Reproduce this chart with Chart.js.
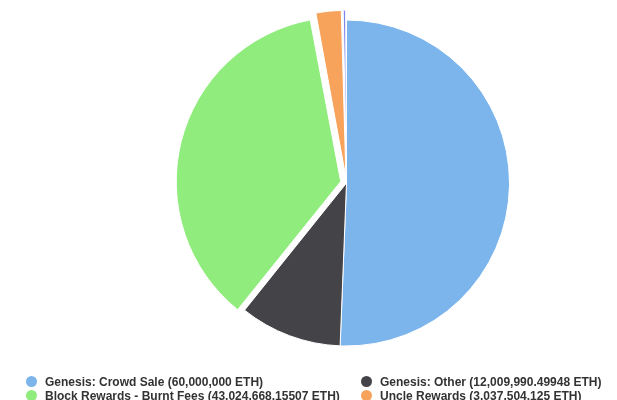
<!DOCTYPE html>
<html>
<head>
<meta charset="utf-8">
<script src="https://cdn.jsdelivr.net/npm/chart.js@4/dist/chart.umd.min.js"></script>
<style>
  html, body { margin: 0; padding: 0; background: #fff; overflow: hidden; }
  #wrap { position: relative; width: 617px; height: 400px; }
  #c { position: absolute; left: 0; top: 0; }
  .li { position: absolute; font: bold 12px "Liberation Sans", Arial, sans-serif; color: #333333; line-height: 14px; white-space: nowrap; }
  .dot { position: absolute; width: 11px; height: 11px; border-radius: 50%; }
</style>
</head>
<body>
<div id="wrap">
  <canvas id="c" width="617" height="400"></canvas>
</div>
<script>
const categories = [
  "Genesis: Crowd Sale",
  "Genesis: Other",
  "Block Rewards - Burnt Fees",
  "Uncle Rewards",
  "Staking Rewards"
];
const values = [60000000, 12009990.49948, 43024668.15507, 3037504.125, 450000];
const colors = ["#7cb5ec", "#434348", "#90ed7d", "#f7a35c", "#8085e9"];
const sliceOffsets = [0, 0, 24, 21, 20];

const fmt = v => v.toLocaleString("en-US", { maximumFractionDigits: 5 });
const labels = categories.map((c, i) => c + " (" + fmt(values[i]) + " ETH)");

const chart = new Chart(document.getElementById("c"), {
  type: "pie",
  data: {
    labels: labels,
    datasets: [{
      data: values,
      backgroundColor: colors,
      borderColor: "#ffffff",
      borderWidth: 1,
      offset: sliceOffsets,
      radius: 163,
      clip: false
    }]
  },
  options: {
    responsive: false,
    animation: false,
    events: [],
    layout: { padding: { left: 76, right: 0, top: 10, bottom: 44 } },
    plugins: {
      legend: { display: false },
      tooltip: { enabled: false }
    }
  }
});

// legend built from the chart's own labels
const wrap = document.getElementById("wrap");
const colText = [45, 380];
const colDot = [31, 366];
const rowY = [381, 395, 409];
chart.data.labels.forEach((lab, i) => {
  const col = i % 2, row = Math.floor(i / 2);
  const d = document.createElement("div");
  d.className = "dot";
  d.style.background = colors[i];
  d.style.left = (colDot[col] - 5.5) + "px";
  d.style.top = (rowY[row] - 5.5) + "px";
  wrap.appendChild(d);
  const t = document.createElement("div");
  t.className = "li";
  t.textContent = lab;
  t.style.left = colText[col] + "px";
  t.style.top = (rowY[row] - 6) + "px";
  wrap.appendChild(t);
});
</script>
</body>
</html>
